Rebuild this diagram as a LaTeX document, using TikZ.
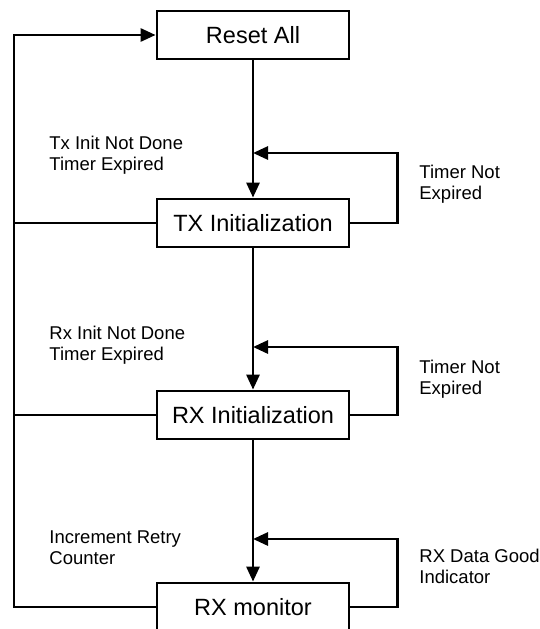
\documentclass[tikz,border=0pt]{standalone}
\usepackage{fontspec}
\setmainfont{Liberation Sans}
\usetikzlibrary{arrows.meta}
\begin{document}
\begin{tikzpicture}[x=1pt,y=-1pt,
  line width=2.8pt,
  state/.style={draw, line width=2.8pt, minimum width=192pt, minimum height=48pt,
    inner sep=0pt, font=\fontsize{23.5}{28}\selectfont},
  lbl/.style={anchor=north west, inner sep=0pt, align=left,
    font=\fontsize{18.5}{21}\selectfont},
  arr/.style={-{Triangle[length=15pt,width=13pt]}, line width=2.8pt},
  wire/.style={line width=2.8pt}]
  \useasboundingbox (0,0) rectangle (539,629);
  \clip (0,0) rectangle (539,629);
  \fill[white] (0,0) rectangle (539,629);

  % states
  \node[state] (reset) at (253,35)  {Reset All};
  \node[state] (tx)    at (253,223) {TX Initialization};
  \node[state] (rx)    at (253,415) {RX Initialization};
  \node[state] (mon)   at (253,607) {RX monitor};

  % join points on the downward path
  \coordinate (jtx) at (253,153);
  \coordinate (jrx) at (253,347);
  \coordinate (jmon) at (253,539);
  % left return bus
  \coordinate (bus) at (14,0);

  % forward path
  \draw[arr] (reset.south) -- (tx.north);
  \draw[arr] (tx.south) -- (rx.north);
  \draw[arr] (rx.south) -- (mon.north);

  % self loops
  \draw[arr] (tx.east) -- ++(47,0) |- (jtx);
  \draw[arr] (rx.east) -- ++(47,0) |- (jrx);
  \draw[arr] (mon.east) -- ++(47,0) |- (jmon);

  % return to reset
  \draw[arr] (mon.west) -- (bus |- mon.west) |- (reset.west);
  \draw[wire] (tx.west) -- (bus |- tx.west);
  \draw[wire] (rx.west) -- (bus |- rx.west);

  % transition labels
  \node[lbl] (l1) at (48,135) {Tx Init Not Done\\Timer Expired};
  \node[lbl] (l2) at (418,164) {Timer Not\\Expired};
  \node[lbl] (l3) at (48,325) {Rx Init Not Done\\Timer Expired};
  \node[lbl] (l4) at (418,359) {Timer Not\\Expired};
  \node[lbl] (l5) at (48,529) {Increment Retry\\Counter};
  \node[lbl] (l6) at (418,548) {RX Data Good\\Indicator};
\end{tikzpicture}
\end{document}
